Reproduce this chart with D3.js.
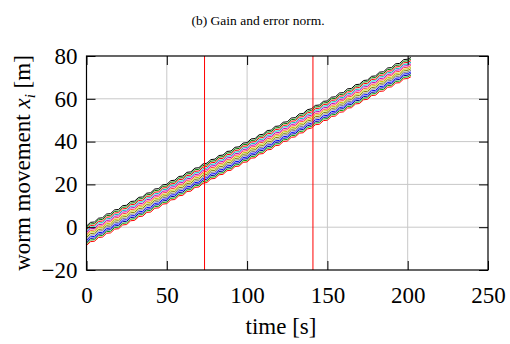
<!DOCTYPE html>
<html>
<head>
<meta charset="utf-8">
<script src="https://cdn.jsdelivr.net/npm/d3@7"></script>
<style>
  body { margin: 0; background: #fff; }
</style>
</head>
<body>
<div class="viz"></div>
<script>
// time samples [s]
const times = [0,2.5,5,7.5,10,12.5,15,17.5,20,22.5,25,27.5,30,32.5,35,37.5,40,42.5,45,47.5,
  50,52.5,55,57.5,60,62.5,65,67.5,70,72.5,75,77.5,80,82.5,85,87.5,90,92.5,95,97.5,
  100,102.5,105,107.5,110,112.5,115,117.5,120,122.5,125,127.5,130,132.5,135,137.5,140,142.5,145,147.5,
  150,152.5,155,157.5,160,162.5,165,167.5,170,172.5,175,177.5,180,182.5,185,187.5,190,192.5,195,197.5,200,202]
// top (leading) worm position [m]
const topWorm = [0.5,2.25,2.45,4.2,4.4,6.15,6.35,8.1,8.3,10.05,10.25,12.0,12.2,13.95,14.15,15.9,16.1,17.85,18.05,19.8,
  20.0,21.75,21.95,23.7,23.9,25.65,25.85,27.6,27.8,29.55,29.9,31.6,31.8,33.5,33.7,35.4,35.6,37.35,37.55,39.3,
  39.5,41.25,41.45,43.2,43.4,45.15,45.35,47.1,47.3,49.05,49.25,51.0,51.2,52.95,53.15,54.9,55.3,56.9,57.1,58.8,
  59.0,60.75,60.95,62.7,62.9,64.65,64.85,66.6,66.8,68.55,68.75,70.5,70.7,72.45,72.65,74.4,74.6,76.35,76.55,78.3,78.5,79.3]
// offset of each worm below the leading one [m]
const offsets = [0,-0.75,-1.5,-2.25,-3.0,-3.75,-4.5,-5.25,-6.0,-6.75,-7.5,-8.25,-9.0]
const colors = ['#000000','#008000','#ff0000','#00c0c0','#c000c0','#ff4040','#c8c800','#808000','#808080','#0000ff','#0000a0','#00a000','#ff0000']
const redLines = [73.5, 141]
const xTicks = [0,50,100,150,200,250]
const yTicks = [-20,0,20,40,60,80]

const W = 510, H = 344
const margin = {top: 56, right: 22, bottom: 74, left: 86.5}
const serif = '"Liberation Serif", "Times New Roman", serif'

const svg = d3.select('.viz').append('svg')
  .attr('width', W)
  .attr('height', H)
  .style('font-family', serif)

const x = d3.scaleLinear([0, 250], [margin.left, W - margin.right])
const y = d3.scaleLinear([-20, 80], [H - margin.bottom, margin.top])

// grid
svg.append('g')
  .selectAll('line')
  .data(xTicks.slice(1, -1))
  .join('line')
  .attr('x1', d => x(d)).attr('x2', d => x(d))
  .attr('y1', y(-20)).attr('y2', y(80))
  .attr('stroke', '#c8c8c8').attr('stroke-width', 1)

svg.append('g')
  .selectAll('line')
  .data(yTicks.slice(1, -1))
  .join('line')
  .attr('x1', x(0)).attr('x2', x(250))
  .attr('y1', d => y(d)).attr('y2', d => y(d))
  .attr('stroke', '#c8c8c8').attr('stroke-width', 1)

// worms
const line = d3.line()
  .x((d, i) => x(times[i]))
  .y(d => y(d))

const series = offsets.map(o => topWorm.map(v => v + o))

svg.append('g')
  .selectAll('path')
  .data(series)
  .join('path')
  .attr('d', line)
  .attr('fill', 'none')
  .attr('stroke', (d, i) => colors[i])
  .attr('stroke-width', 1)

// red event markers
svg.append('g')
  .selectAll('line')
  .data(redLines)
  .join('line')
  .attr('x1', d => x(d)).attr('x2', d => x(d))
  .attr('y1', y(-20)).attr('y2', y(80))
  .attr('stroke', '#ff0000').attr('stroke-width', 1)

// axes with inward ticks
const tick = 9
const styleText = g => g.selectAll('text')
  .style('font-family', serif)
  .style('font-size', '23px')
  .attr('fill', '#000')

svg.append('g')
  .attr('transform', `translate(0,${y(-20)})`)
  .call(d3.axisBottom(x).tickValues(xTicks).tickSize(-tick).tickPadding(17).tickFormat(d3.format('d')))
  .call(g => g.select('.domain').remove())
  .call(styleText)

svg.append('g')
  .attr('transform', `translate(0,${y(80)})`)
  .call(d3.axisTop(x).tickValues(xTicks).tickSize(-tick).tickFormat(''))
  .call(g => g.select('.domain').remove())

svg.append('g')
  .attr('transform', `translate(${x(0)},0)`)
  .call(d3.axisLeft(y).tickValues(yTicks).tickSize(-tick).tickPadding(9).tickFormat(d => d < 0 ? '\u2212' + Math.abs(d) : d))
  .call(g => g.select('.domain').remove())
  .call(styleText)

svg.append('g')
  .attr('transform', `translate(${x(250)},0)`)
  .call(d3.axisRight(y).tickValues(yTicks).tickSize(-tick).tickFormat(''))
  .call(g => g.select('.domain').remove())

svg.append('rect')
  .attr('x', x(0)).attr('y', y(80))
  .attr('width', x(250) - x(0)).attr('height', y(-20) - y(80))
  .attr('fill', 'none').attr('stroke', '#000').attr('stroke-width', 1.2)

// titles
svg.append('text')
  .attr('x', 258).attr('y', 25)
  .attr('text-anchor', 'middle')
  .style('font-family', serif)
  .style('font-size', '13.5px')
  .text('(b) Gain and error norm.')

svg.append('text')
  .attr('x', 281).attr('y', 334)
  .attr('text-anchor', 'middle')
  .style('font-family', serif)
  .style('font-size', '23px')
  .text('time [s]')

const yl = svg.append('text')
  .attr('transform', `translate(30,${(y(80) + y(-20)) / 2}) rotate(-90)`)
  .attr('text-anchor', 'middle')
  .style('font-family', serif)
  .style('font-size', '23px')
yl.append('tspan').text('worm movement ')
yl.append('tspan').attr('font-style', 'italic').text('x')
yl.append('tspan').attr('font-style', 'italic').style('font-size', '15px').attr('dy', 5).text('i')
yl.append('tspan').attr('dy', -5).text(' [m]')
</script>
</body>
</html>
